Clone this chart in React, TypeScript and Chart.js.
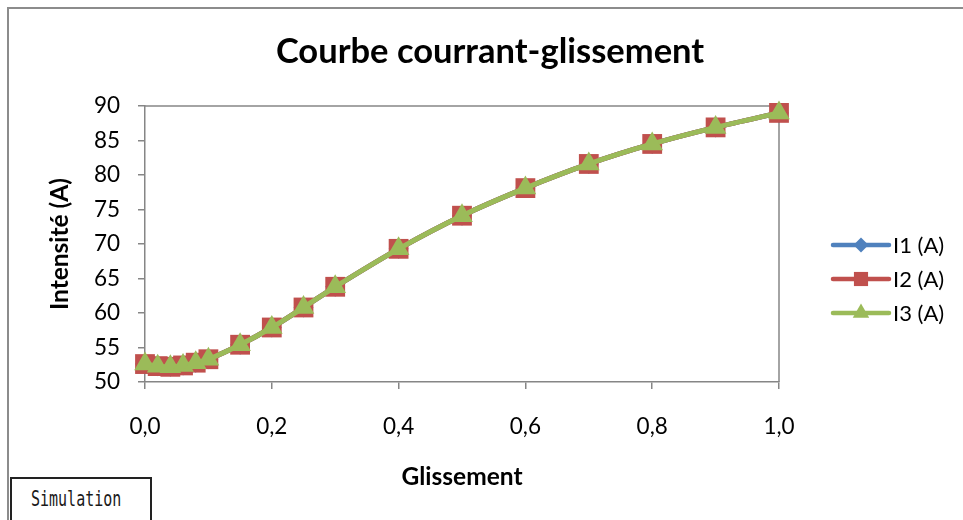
import React, { useEffect, useRef } from 'react';
import { Chart, registerables } from 'chart.js';

Chart.register(...registerables);

// ---- Data ----
const slip = [0, 0.02, 0.04, 0.06, 0.08, 0.1, 0.15, 0.2, 0.25, 0.3, 0.4, 0.5, 0.6, 0.7, 0.8, 0.9, 1.0];
const currentI1 = [52.6, 52.3, 52.2, 52.4, 52.8, 53.3, 55.4, 57.9, 60.8, 63.8, 69.3, 74.1, 78.1, 81.6, 84.5, 86.9, 89.0];
const currentI2 = [52.6, 52.3, 52.2, 52.4, 52.8, 53.3, 55.4, 57.9, 60.8, 63.8, 69.3, 74.1, 78.1, 81.6, 84.5, 86.9, 89.0];
const currentI3 = [52.6, 52.3, 52.2, 52.4, 52.8, 53.3, 55.4, 57.9, 60.8, 63.8, 69.3, 74.1, 78.1, 81.6, 84.5, 86.9, 89.0];
const seriesLabels = ['I1 (A)', 'I2 (A)', 'I3 (A)'];
const chartTitle = 'Courbe courrant-glissement';
const xTitle = 'Glissement';
const yTitle = 'Intensité (A)';
const boxLabel = 'Simulation';

const FONT = 'Lato, "Open Sans", sans-serif';
const AXIS_GREY = '#868686';
const COLORS = ['#4F81BD', '#C0504D', '#9BBB59'];
const STYLES = ['rectRot', 'rect', 'triangle'];
const RADII = [10, 14, 12.5];
const LEGEND_RADII = [7.5, 10, 9.5];

function drawMarker(ctx: CanvasRenderingContext2D, style: string, x: number, y: number, r: number, color: string) {
  ctx.fillStyle = color;
  ctx.beginPath();
  if (style === 'rectRot') {
    ctx.moveTo(x, y - r);
    ctx.lineTo(x + r, y);
    ctx.lineTo(x, y + r);
    ctx.lineTo(x - r, y);
  } else if (style === 'rect') {
    const s = r * Math.SQRT1_2;
    ctx.rect(x - s, y - s, 2 * s, 2 * s);
  } else {
    const a = (2 * Math.PI) / 3;
    ctx.moveTo(x, y - r);
    ctx.lineTo(x + Math.sin(a) * r, y - Math.cos(a) * r);
    ctx.lineTo(x + Math.sin(2 * a) * r, y - Math.cos(2 * a) * r);
  }
  ctx.closePath();
  ctx.fill();
}

const decorPlugin = {
  id: 'decor',
  beforeDraw(chart: any) {
    const { ctx, width, height } = chart;
    ctx.save();
    ctx.fillStyle = '#ffffff';
    ctx.fillRect(0, 0, width, height);
    ctx.strokeStyle = '#8c8c8c';
    ctx.lineWidth = 2;
    ctx.beginPath();
    ctx.moveTo(8, height);
    ctx.lineTo(8, 8);
    ctx.lineTo(width, 8);
    ctx.stroke();
    ctx.restore();
  },
  beforeDatasetsDraw(chart: any) {
    const { ctx, chartArea: a } = chart;
    ctx.save();
    ctx.strokeStyle = AXIS_GREY;
    ctx.lineWidth = 1.5;
    ctx.beginPath();
    ctx.moveTo(a.left, a.top);
    ctx.lineTo(a.right, a.top);
    ctx.lineTo(a.right, a.bottom);
    ctx.stroke();
    ctx.restore();
  },
  afterDraw(chart: any) {
    const { ctx, chartArea: a } = chart;
    ctx.save();
    // title
    ctx.fillStyle = '#000';
    ctx.font = `bold 34.5px ${FONT}`;
    ctx.textAlign = 'center';
    ctx.textBaseline = 'middle';
    ctx.fillText(chartTitle, 490, 52);
    // legend
    const midY = (a.top + a.bottom) / 2 + 35;
    const x1 = a.right + 54;
    const x2 = a.right + 110;
    chart.data.datasets.forEach((ds: any, i: number) => {
      const y = midY + (i - 1) * 34;
      ctx.strokeStyle = ds.borderColor;
      ctx.lineWidth = 4.5;
      ctx.lineCap = 'round';
      ctx.beginPath();
      ctx.moveTo(x1, y);
      ctx.lineTo(x2, y);
      ctx.stroke();
      drawMarker(ctx, ds.pointStyle, (x1 + x2) / 2, y, LEGEND_RADII[i], ds.backgroundColor);
      ctx.fillStyle = '#000';
      ctx.font = `22px ${FONT}`;
      ctx.textAlign = 'left';
      ctx.textBaseline = 'middle';
      ctx.fillText(ds.label, x2 + 4, y + 1);
    });
    ctx.restore();
  },
};

export default function App() {
  const canvasRef = useRef<HTMLCanvasElement | null>(null);

  useEffect(() => {
    if (!canvasRef.current) return;
    const series = [currentI1, currentI2, currentI3];
    const chart = new Chart(canvasRef.current, {
      type: 'line',
      data: {
        datasets: series.map((vals, i) => ({
          label: seriesLabels[i],
          data: slip.map((x, j) => ({ x, y: vals[j] })),
          borderColor: COLORS[i],
          backgroundColor: COLORS[i],
          pointBackgroundColor: COLORS[i],
          pointBorderColor: COLORS[i],
          pointBorderWidth: 0,
          pointStyle: STYLES[i],
          pointRadius: RADII[i],
          pointHoverRadius: RADII[i],
          borderWidth: 5,
          tension: 0.3,
          fill: false,
          clip: false,
          order: 2 - i,
        })),
      },
      options: {
        responsive: false,
        animation: false,
        devicePixelRatio: 1,
        layout: { padding: { left: 0, top: 106, right: 184, bottom: 0 } },
        plugins: {
          legend: { display: false },
          title: { display: false },
          tooltip: { enabled: false },
        },
        scales: {
          x: {
            type: 'linear',
            min: 0,
            max: 1,
            afterFit(scale: any) {
              scale.height = 138;
            },
            ticks: {
              stepSize: 0.2,
              color: '#000',
              font: { family: FONT, size: 22.5 },
              padding: 24,
              maxRotation: 0,
              callback: (v: any) => Number(v).toFixed(1).replace('.', ','),
            },
            grid: { drawOnChartArea: false, drawTicks: true, tickLength: 7, color: AXIS_GREY, lineWidth: 1.5 },
            border: { display: true, color: AXIS_GREY, width: 1.5 },
            title: {
              display: true,
              text: xTitle,
              color: '#000',
              font: { family: FONT, size: 24.5, weight: 'bold' },
              padding: { top: 0, bottom: 28 },
            },
          },
          y: {
            type: 'linear',
            min: 50,
            max: 90,
            afterFit(scale: any) {
              scale.width = 145;
            },
            ticks: {
              stepSize: 5,
              color: '#000',
              font: { family: FONT, size: 22.5 },
              padding: 18,
            },
            grid: { drawOnChartArea: false, drawTicks: true, tickLength: 7, color: AXIS_GREY, lineWidth: 1.5 },
            border: { display: true, color: AXIS_GREY, width: 1.5 },
            title: {
              display: true,
              text: yTitle,
              color: '#000',
              font: { family: FONT, size: 24.5, weight: 'bold' },
              padding: { top: 45, bottom: 0 },
            },
          },
        },
      },
      plugins: [decorPlugin],
    } as any);
    return () => chart.destroy();
  }, []);

  return (
    <div style={{ position: 'fixed', left: 0, top: 0, width: 963, height: 520, background: '#fff', overflow: 'hidden' }}>
      <canvas ref={canvasRef} width={963} height={520} style={{ position: 'absolute', left: 0, top: 0 }} />
      <div
        style={{
          position: 'absolute',
          left: 10,
          top: 477,
          width: 142,
          height: 50,
          boxSizing: 'border-box',
          border: '2px solid #222',
          background: '#fff',
          fontFamily: '"DejaVu Sans Mono", monospace',
          fontSize: 15,
          lineHeight: '20px',
          paddingTop: 10,
          paddingLeft: 19,
          color: '#1a1a1a',
        }}
      >
        <span style={{ display: 'inline-block', transform: 'scale(1, 1.4)', transformOrigin: 'left center' }}>{boxLabel}</span>
      </div>
    </div>
  );
}
